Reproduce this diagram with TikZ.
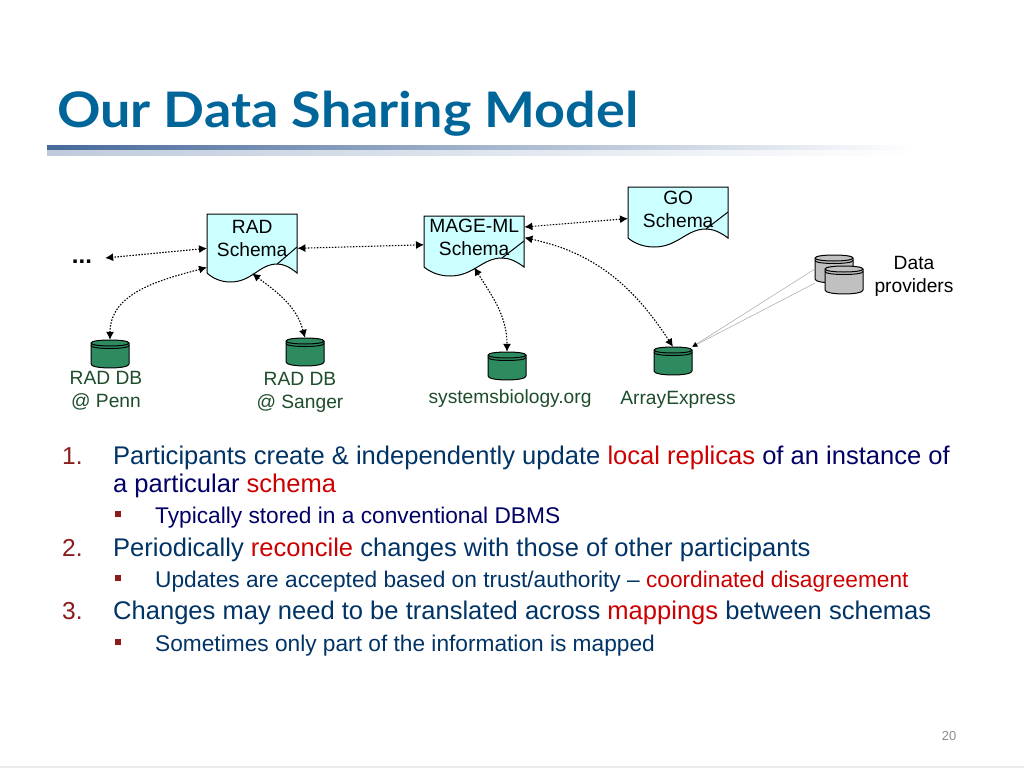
\documentclass[tikz,border=0pt]{standalone}
\usepackage{fontspec}
\setmainfont{Liberation Sans}
\newfontfamily\titlefont{Lato}[FakeStretch=1.1]
\usetikzlibrary{arrows.meta}
\definecolor{titleblue}{HTML}{006699}
\definecolor{rulerblue}{HTML}{46699A}
\definecolor{schemacyan}{HTML}{CCFFFF}
\definecolor{dbgreen}{HTML}{2E8B60}
\definecolor{dbgray}{HTML}{C0C0C0}
\definecolor{dbtext}{HTML}{1E4D2B}
\definecolor{bodyblue}{HTML}{003366}
\definecolor{bodynavy}{HTML}{000066}
\definecolor{bodyred}{HTML}{CC0000}
\definecolor{numred}{HTML}{8B1A1A}
\newcommand{\fsize}[2]{\fontsize{#1}{#2}\selectfont}
\begin{document}
\begin{tikzpicture}
  [x=1pt,y=-1pt,
   schemadoc/.style={draw=black,line width=1pt,fill=schemacyan},
   schematext/.style={rectangle,inner sep=0pt,align=center,font=\fsize{19.2}{23},text=black},
   dbstore/.style={draw=black,line width=1pt},
   dbanchor/.style={rectangle,inner sep=0pt,minimum width=38pt,minimum height=28pt},
   dblabel/.style={align=center,inner sep=0pt,font=\fsize{19.2}{23},text=dbtext},
   link/.style={dash pattern=on 1.5pt off 1.5pt,line width=1.1pt,{Latex[length=8pt,width=8pt]}-{Latex[length=8pt,width=8pt]}},
   feed/.style={draw=black!30,line width=.6pt,-{Latex[length=5pt,width=5pt,black]}},
   mainline/.style={anchor=base west,inner sep=0pt,font=\fsize{25.55}{28},text=bodyblue},
   subline/.style={anchor=base west,inner sep=0pt,font=\fsize{22.7}{26},text=bodyblue},
   numtext/.style={anchor=base west,inner sep=0pt,font=\fsize{24.5}{28},text=numred},
   bulletbox/.style={rectangle,fill=numred,inner sep=0pt,minimum size=6.5pt}]
  \useasboundingbox (0,0) rectangle (1024,768);
  \fill[white] (0,0) rectangle (1024,768);
  % title and ruler
  \node[anchor=base west,inner sep=0pt,text=titleblue,font=\titlefont\bfseries\fsize{49}{52}] (title) at (57,127) {Our Data Sharing Model};
  \shade[left color=rulerblue,right color=white] (47,145) rectangle (915,150);
  \shade[left color=rulerblue!35,right color=white] (47,150) rectangle (915,155);
  \draw[black!8,line width=1.5pt] (0,767) -- (1024,767);
  % schema documents
  \foreach \name/\lx/\ty/\wide/\high/\boxhigh/\txt in {rad/207/214/90/59/49/RAD\\Schema,mage/424/216/100/51/43/MAGE-ML\\Schema,go/628/187/100/51/45/GO\\Schema} {
    \draw[schemadoc] (\lx,\ty) -- (\lx+\wide,\ty) -- (\lx+\wide,\ty+\high)
      .. controls (\lx+.92*\wide,\ty+\high-6) and (\lx+.85*\wide,\ty+\high-9) .. (\lx+.78*\wide,\ty+\high-9)
      .. controls (\lx+.58*\wide,\ty+\high-9) and (\lx+.5*\wide,\ty+\high+9) .. (\lx+.26*\wide,\ty+\high+9)
      .. controls (\lx+.15*\wide,\ty+\high+9) and (\lx+.06*\wide,\ty+\high+5) .. (\lx,\ty+\high) -- cycle;
    \draw[line width=1pt] (\lx+.78*\wide,\ty+\high-9) -- (\lx+\wide,\ty+\high-26);
    \node[schematext,anchor=north west,minimum width=\wide,minimum height=\boxhigh] (\name) at (\lx,\ty) {\txt};
  }
  \node[anchor=base,inner sep=0pt,minimum width=46pt,text height=10pt,font=\bfseries\fsize{24}{26}] (dots) at (82,263) {...};
  % databases
  \foreach \name/\cx/\cy/\col in {penn/110/354/dbgreen,sanger/305/352/dbgreen,sysbio/507/366/dbgreen,arrayx/673/361/dbgreen,provone/834/269/dbgray,provtwo/844/280/dbgray} {
    \draw[dbstore,fill=\col] (\cx-19,\cy-11) -- (\cx-19,\cy+10)
      .. controls (\cx-19,\cy+15.3) and (\cx+19,\cy+15.3) .. (\cx+19,\cy+10) -- (\cx+19,\cy-11)
      .. controls (\cx+19,\cy-15) and (\cx-19,\cy-15) .. cycle;
    \draw[dbstore] (\cx-19,\cy-11) .. controls (\cx-19,\cy-7) and (\cx+19,\cy-7) .. (\cx+19,\cy-11);
    \draw[dbstore] (\cx-19,\cy-8.5) .. controls (\cx-19,\cy-4.5) and (\cx+19,\cy-4.5) .. (\cx+19,\cy-8.5);
    \node[dbanchor] (\name) at (\cx,\cy) {};
  }
  \node[dblabel] (pennlabel) at (106,390.5) {RAD DB\\@ Penn};
  \node[dblabel] (sangerlabel) at (300,392.5) {RAD DB\\@ Sanger};
  \node[dblabel] (sysbiolabel) at (510,399) {systemsbiology.org};
  \node[dblabel] (arrayxlabel) at (678,400) {ArrayExpress};
  \node[dblabel,text=black] (provlabel) at (914,276) {Data\\providers};
  % connectors
  \draw[link] (rad.192) -- (dots.east);
  \draw[link] ([yshift=-4pt]rad.south west) to[out=195,in=90] (penn.north);
  \draw[link] ([yshift=-10pt]rad.south) to[out=-37,in=105] (sanger.north);
  \draw[link] (rad.-12) -- (mage.188);
  \draw[link] (mage.12) -- (go.190);
  \draw[link] ([yshift=-8pt]mage.south) to[out=-58,in=90] (sysbio.north);
  \draw[link] (mage.east) to[out=-12,in=123] (arrayx.north);
  \foreach \source in {provone.west,provone.south west}
    \draw[feed] (\source) -- (arrayx.north east);
  % body text
  \node[numtext] (numone) at (62,464.5) {1.};
  \node[mainline] (lineone) at (113,464.5) {Participants create \& independently update \textcolor{bodyred}{local replicas} \textcolor{bodynavy}{of an instance of}};
  \node[mainline,text=bodynavy] (linetwo) at (113,492.5) {a particular \textcolor{bodyred}{schema}};
  \node[bulletbox] (bulone) at (118,514) {};
  \node[subline,text=bodynavy] (subone) at (155,523.5) {Typically stored in a conventional DBMS};
  \node[numtext] (numtwo) at (62,556.5) {2.};
  \node[mainline] (linethree) at (113,556.5) {Periodically \textcolor{bodyred}{reconcile} changes with those of other participants};
  \node[bulletbox] (bultwo) at (118,578) {};
  \node[subline] (subtwo) at (155,587.5) {Updates are accepted based on trust/authority -- \textcolor{bodyred}{coordinated disagreement}};
  \node[numtext] (numthree) at (62,619.5) {3.};
  \node[mainline] (linefour) at (113,619.5) {Changes may need to be translated across \textcolor{bodyred}{mappings} between schemas};
  \node[bulletbox] (bulthree) at (118,642) {};
  \node[subline] (subthree) at (155,651.5) {Sometimes only part of the information is mapped};
  \node[inner sep=0pt,text=black!45,font=\fsize{13}{15}] (pagenum) at (949,736) {20};
\end{tikzpicture}
\end{document}
